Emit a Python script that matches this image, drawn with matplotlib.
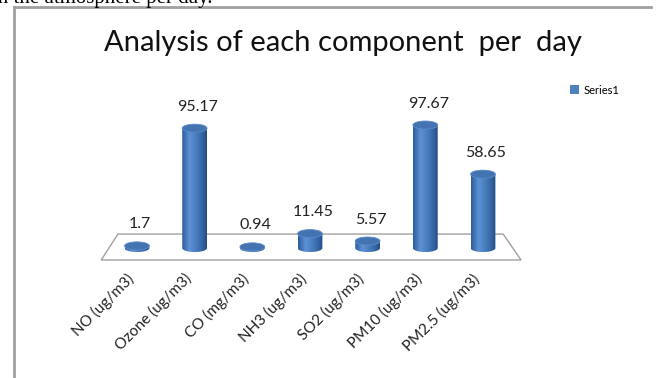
import numpy as np
import matplotlib.pyplot as plt
import matplotlib.transforms as mtransforms
from matplotlib.path import Path
from matplotlib.patches import PathPatch, Ellipse, Polygon, Patch
from matplotlib.lines import Line2D
from matplotlib.colors import LinearSegmentedColormap

# Daily averages for each measured component
categories = ['NO (ug/m3)', 'Ozone (ug/m3)', 'CO (mg/m3)', 'NH3 (ug/m3)',
              'SO2 (ug/m3)', 'PM10 (ug/m3)', 'PM2.5 (ug/m3)']
values = [1.7, 95.17, 0.94, 11.45, 5.57, 97.67, 58.65]
value_labels = ['1.7', '95.17', '0.94', '11.45', '5.57', '97.67', '58.65']
series_name = 'Series1'
title = 'Analysis of each component  per  day'
caption_tail = 'in the atmosphere per day.'

plt.rcParams['font.family'] = ['Lato', 'DejaVu Sans']

fig = plt.figure(figsize=(6.57, 3.78), dpi=100)
ax = fig.add_axes([0.1207, 0.2772, 0.7022, 0.4997])

# cylinder look: dark edges, highlight a bit left of centre
shade = LinearSegmentedColormap.from_list(
    'cyl', [(0.0, '#2c5d9e'), (0.3, '#5d91d3'), (0.55, '#4a7fc1'),
            (0.85, '#33629f'), (1.0, '#244c82')])
grad = np.linspace(0, 1, 64).reshape(1, -1)

cyl_w = 0.43
cap_h = 6.4
n = len(values)

# floor of the 3-D plot
floor = Polygon([(-0.62, -9.5), (n - 1 + 0.66, -9.5),
                 (n - 1 + 0.35, 11.1), (-0.33, 11.1)],
                closed=True, fc='white', ec='#a0a0a0', lw=1.0, zorder=1)
ax.add_patch(floor)

t = np.linspace(np.pi, 2 * np.pi, 40)
for i, v in enumerate(values):
    x0, x1 = i - cyl_w / 2, i + cyl_w / 2
    bottom = np.column_stack([i + cyl_w / 2 * np.cos(t), cap_h / 2 * np.sin(t)])
    verts = np.vstack([[x0, v], bottom, [x1, v], [x0, v]])
    clip = PathPatch(Path(verts), transform=ax.transData, fc='none', ec='none')
    ax.add_patch(clip)
    im = ax.imshow(grad, cmap=shade, extent=(x0, x1, -cap_h / 2, v),
                   aspect='auto', interpolation='bilinear', zorder=3)
    im.set_clip_path(clip)
    ax.add_patch(Ellipse((i, v), cyl_w, cap_h, fc='#4473b2', ec='#5b8bca',
                         lw=0.6, zorder=4))
    ax.text(i + 0.05, v + 17, value_labels[i], ha='center', va='center',
            fontsize=11.5, color='#222222', zorder=5)

ax.set_xlim(-1, 7)
ax.set_ylim(-20, 130)
ax.set_frame_on(False)
ax.set_yticks([])
ax.set_xticks(range(n))
ax.set_xticklabels(categories, rotation=45, ha='right', va='top',
                   rotation_mode='anchor', fontsize=11, color='#222222')
ax.tick_params(axis='x', length=0, pad=0)
shift = mtransforms.ScaledTranslation(-0.11, 0.02, fig.dpi_scale_trans)
for lbl in ax.get_xticklabels():
    lbl.set_transform(lbl.get_transform() + shift)

fig.text(343 / 657, 1 - 43 / 378, title, ha='center', va='center',
         fontsize=21, color='#111111')

fig.legend(handles=[Patch(fc='#4f81bd', ec='none', label=series_name)],
           loc='center left', bbox_to_anchor=(570 / 657, 1 - 90 / 378),
           frameon=False, fontsize=8, handlelength=0.8, handleheight=0.8,
           handletextpad=0.4, borderpad=0, borderaxespad=0)

# chart frame (left and top edges only are in view)
fig.add_artist(Line2D([14 / 657, 14 / 657], [0, 1 - 7 / 378],
                      transform=fig.transFigure, color='#a0a0a0', lw=2))
fig.add_artist(Line2D([14 / 657, 651 / 657], [1 - 7 / 378, 1 - 7 / 378],
                      transform=fig.transFigure, color='#a0a0a0', lw=2))

# tail of the sentence above the chart
fig.text(-0.012, 1 - 3.5 / 378, caption_tail, ha='left', va='baseline',
         fontsize=15, family='Liberation Serif', color='#000000')

fig.savefig('out.png', dpi=100, facecolor='white')
